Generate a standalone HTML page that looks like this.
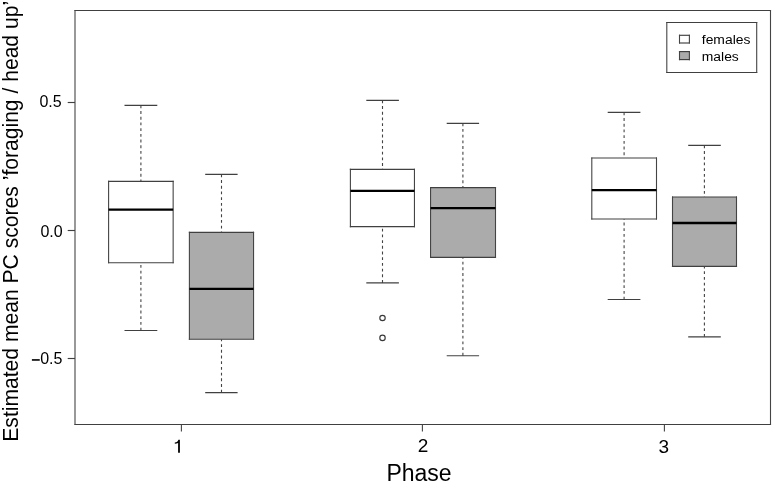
<!DOCTYPE html>
<html>
<head>
<meta charset="utf-8">
<style>
html,body{margin:0;padding:0;background:#fff;}
body{width:772px;height:482px;overflow:hidden;}
svg{display:block;will-change:transform;}
text{font-family:"Liberation Sans",sans-serif;fill:#000;}
</style>
</head>
<body>
<svg width="772" height="482" viewBox="0 0 772 482">
<rect x="0" y="0" width="772" height="482" fill="#fff"/>
<line x1="74.45" y1="10.5" x2="771.05" y2="10.5" stroke="#404040" stroke-width="1.15"/>
<line x1="74.45" y1="424.5" x2="771.05" y2="424.5" stroke="#404040" stroke-width="1.15"/>
<line x1="75.0" y1="9.925" x2="75.0" y2="425.075" stroke="#444444" stroke-width="1.1"/>
<line x1="770.5" y1="9.925" x2="770.5" y2="425.075" stroke="#444444" stroke-width="1.1"/>
<line x1="67.7" y1="102.5" x2="75.0" y2="102.5" stroke="#404040" stroke-width="1.15"/>
<line x1="67.7" y1="230.5" x2="75.0" y2="230.5" stroke="#404040" stroke-width="1.15"/>
<line x1="67.7" y1="358.5" x2="75.0" y2="358.5" stroke="#404040" stroke-width="1.15"/>
<line x1="181.4" y1="424.5" x2="181.4" y2="431.6" stroke="#444444" stroke-width="1.1"/>
<line x1="422.4" y1="424.5" x2="422.4" y2="431.6" stroke="#444444" stroke-width="1.1"/>
<line x1="664.4" y1="424.5" x2="664.4" y2="431.6" stroke="#444444" stroke-width="1.1"/>
<line x1="140.9" y1="105.4" x2="140.9" y2="181.4" stroke="#444444" stroke-width="1.1" stroke-dasharray="2.85 2.85"/>
<line x1="140.9" y1="330.5" x2="140.9" y2="262.7" stroke="#444444" stroke-width="1.1" stroke-dasharray="2.85 2.85"/>
<line x1="124.5" y1="105.4" x2="157.3" y2="105.4" stroke="#404040" stroke-width="1.15"/>
<line x1="124.5" y1="330.5" x2="157.3" y2="330.5" stroke="#404040" stroke-width="1.15"/>
<line x1="221.5" y1="174.4" x2="221.5" y2="232.4" stroke="#444444" stroke-width="1.1" stroke-dasharray="2.85 2.85"/>
<line x1="221.5" y1="392.6" x2="221.5" y2="339.2" stroke="#444444" stroke-width="1.1" stroke-dasharray="2.85 2.85"/>
<line x1="205.2" y1="174.4" x2="237.6" y2="174.4" stroke="#404040" stroke-width="1.15"/>
<line x1="205.2" y1="392.6" x2="237.6" y2="392.6" stroke="#404040" stroke-width="1.15"/>
<line x1="382.5" y1="100.4" x2="382.5" y2="169.4" stroke="#444444" stroke-width="1.1" stroke-dasharray="2.85 2.85"/>
<line x1="382.5" y1="282.9" x2="382.5" y2="226.6" stroke="#444444" stroke-width="1.1" stroke-dasharray="2.85 2.85"/>
<line x1="366.3" y1="100.4" x2="398.9" y2="100.4" stroke="#404040" stroke-width="1.15"/>
<line x1="366.3" y1="282.9" x2="398.9" y2="282.9" stroke="#404040" stroke-width="1.15"/>
<line x1="462.9" y1="123.3" x2="462.9" y2="187.55" stroke="#444444" stroke-width="1.1" stroke-dasharray="2.85 2.85"/>
<line x1="462.9" y1="355.7" x2="462.9" y2="257.3" stroke="#444444" stroke-width="1.1" stroke-dasharray="2.85 2.85"/>
<line x1="446.7" y1="123.3" x2="479.1" y2="123.3" stroke="#404040" stroke-width="1.15"/>
<line x1="446.7" y1="355.7" x2="479.1" y2="355.7" stroke="#404040" stroke-width="1.15"/>
<line x1="624.1" y1="112.4" x2="624.1" y2="158.0" stroke="#444444" stroke-width="1.1" stroke-dasharray="2.85 2.85"/>
<line x1="624.1" y1="299.5" x2="624.1" y2="219.0" stroke="#444444" stroke-width="1.1" stroke-dasharray="2.85 2.85"/>
<line x1="607.7" y1="112.4" x2="640.4" y2="112.4" stroke="#404040" stroke-width="1.15"/>
<line x1="607.7" y1="299.5" x2="640.4" y2="299.5" stroke="#404040" stroke-width="1.15"/>
<line x1="704.4" y1="145.4" x2="704.4" y2="197.0" stroke="#444444" stroke-width="1.1" stroke-dasharray="2.85 2.85"/>
<line x1="704.4" y1="336.8" x2="704.4" y2="266.3" stroke="#444444" stroke-width="1.1" stroke-dasharray="2.85 2.85"/>
<line x1="688.2" y1="145.4" x2="720.8" y2="145.4" stroke="#404040" stroke-width="1.15"/>
<line x1="688.2" y1="336.8" x2="720.8" y2="336.8" stroke="#404040" stroke-width="1.15"/>
<rect x="108.6" y="181.4" width="64.55" height="81.3" fill="#fff"/>
<line x1="108.05" y1="181.4" x2="173.7" y2="181.4" stroke="#404040" stroke-width="1.15"/>
<line x1="108.05" y1="262.7" x2="173.7" y2="262.7" stroke="#404040" stroke-width="1.15"/>
<line x1="108.6" y1="180.825" x2="108.6" y2="263.275" stroke="#444444" stroke-width="1.1"/>
<line x1="173.15" y1="180.825" x2="173.15" y2="263.275" stroke="#444444" stroke-width="1.1"/>
<line x1="108.6" y1="209.7" x2="173.15" y2="209.7" stroke="#000" stroke-width="2.3"/>
<rect x="189.4" y="232.4" width="64.15" height="106.8" fill="#ababab"/>
<line x1="188.85" y1="232.4" x2="254.1" y2="232.4" stroke="#404040" stroke-width="1.15"/>
<line x1="188.85" y1="339.2" x2="254.1" y2="339.2" stroke="#404040" stroke-width="1.15"/>
<line x1="189.4" y1="231.825" x2="189.4" y2="339.775" stroke="#444444" stroke-width="1.1"/>
<line x1="253.55" y1="231.825" x2="253.55" y2="339.775" stroke="#444444" stroke-width="1.1"/>
<line x1="189.4" y1="288.9" x2="253.55" y2="288.9" stroke="#000" stroke-width="2.3"/>
<rect x="350.4" y="169.4" width="64.05" height="57.2" fill="#fff"/>
<line x1="349.85" y1="169.4" x2="415.0" y2="169.4" stroke="#404040" stroke-width="1.15"/>
<line x1="349.85" y1="226.6" x2="415.0" y2="226.6" stroke="#404040" stroke-width="1.15"/>
<line x1="350.4" y1="168.825" x2="350.4" y2="227.175" stroke="#444444" stroke-width="1.1"/>
<line x1="414.45" y1="168.825" x2="414.45" y2="227.175" stroke="#444444" stroke-width="1.1"/>
<line x1="350.4" y1="190.8" x2="414.45" y2="190.8" stroke="#000" stroke-width="2.3"/>
<rect x="430.55" y="187.55" width="64.95" height="69.75" fill="#ababab"/>
<line x1="430.0" y1="187.55" x2="496.05" y2="187.55" stroke="#404040" stroke-width="1.15"/>
<line x1="430.0" y1="257.3" x2="496.05" y2="257.3" stroke="#404040" stroke-width="1.15"/>
<line x1="430.55" y1="186.975" x2="430.55" y2="257.875" stroke="#444444" stroke-width="1.1"/>
<line x1="495.5" y1="186.975" x2="495.5" y2="257.875" stroke="#444444" stroke-width="1.1"/>
<line x1="430.55" y1="208.1" x2="495.5" y2="208.1" stroke="#000" stroke-width="2.3"/>
<rect x="591.8" y="158.0" width="64.7" height="61.0" fill="#fff"/>
<line x1="591.25" y1="158.0" x2="657.05" y2="158.0" stroke="#404040" stroke-width="1.15"/>
<line x1="591.25" y1="219.0" x2="657.05" y2="219.0" stroke="#404040" stroke-width="1.15"/>
<line x1="591.8" y1="157.425" x2="591.8" y2="219.575" stroke="#444444" stroke-width="1.1"/>
<line x1="656.5" y1="157.425" x2="656.5" y2="219.575" stroke="#444444" stroke-width="1.1"/>
<line x1="591.8" y1="190.1" x2="656.5" y2="190.1" stroke="#000" stroke-width="2.3"/>
<rect x="672.5" y="197.0" width="64.0" height="69.3" fill="#ababab"/>
<line x1="671.95" y1="197.0" x2="737.05" y2="197.0" stroke="#404040" stroke-width="1.15"/>
<line x1="671.95" y1="266.3" x2="737.05" y2="266.3" stroke="#404040" stroke-width="1.15"/>
<line x1="672.5" y1="196.425" x2="672.5" y2="266.875" stroke="#444444" stroke-width="1.1"/>
<line x1="736.5" y1="196.425" x2="736.5" y2="266.875" stroke="#444444" stroke-width="1.1"/>
<line x1="672.5" y1="223.0" x2="736.5" y2="223.0" stroke="#000" stroke-width="2.3"/>
<circle cx="382.5" cy="318.0" r="2.7" fill="none" stroke="#383838" stroke-width="1.15"/>
<circle cx="382.5" cy="337.9" r="2.7" fill="none" stroke="#383838" stroke-width="1.15"/>
<g font-size="16" text-anchor="end">
  <text x="61.7" y="107.4">0.5</text>
  <text x="62.7" y="236.7">0.0</text>
  <text x="62.4" y="364.2">0.5</text>
</g>
<rect x="31.9" y="359.15" width="7.85" height="1.6" fill="#000"/>
<g font-size="19" text-anchor="middle">
  <text x="423" y="451.8">2</text>
  <text x="663.8" y="452.8">3</text>
</g>
<path d="M179.9,452.8 L178.1,452.8 L178.1,443.1 C177.1,443.6 176,443.7 174.8,443.7 L174.8,442.4 C176.8,442.3 178,441.3 178.4,439.7 L179.9,439.7 Z" fill="#000"/>
<text x="419.0" y="480.7" font-size="23" text-anchor="middle">Phase</text>
<text transform="translate(17.8,441.7) scale(1.05,1) rotate(-90)" font-size="21.1">Estimated mean PC scores &#8217;foraging / head up&#8217;</text>
<rect x="666.8" y="22.5" width="89.9" height="50.0" fill="#fff"/>
<line x1="666.25" y1="22.5" x2="757.25" y2="22.5" stroke="#404040" stroke-width="1.15"/>
<line x1="666.25" y1="72.5" x2="757.25" y2="72.5" stroke="#404040" stroke-width="1.15"/>
<line x1="666.8" y1="21.925" x2="666.8" y2="73.075" stroke="#444444" stroke-width="1.1"/>
<line x1="756.7" y1="21.925" x2="756.7" y2="73.075" stroke="#444444" stroke-width="1.1"/>
<rect x="679.5" y="35.3" width="9.9" height="7.7" fill="#fff"/>
<line x1="678.95" y1="35.3" x2="689.95" y2="35.3" stroke="#404040" stroke-width="1.15"/>
<line x1="678.95" y1="43.0" x2="689.95" y2="43.0" stroke="#404040" stroke-width="1.15"/>
<line x1="679.5" y1="34.725" x2="679.5" y2="43.575" stroke="#444444" stroke-width="1.1"/>
<line x1="689.4" y1="34.725" x2="689.4" y2="43.575" stroke="#444444" stroke-width="1.1"/>
<rect x="679.5" y="51.6" width="9.9" height="8.0" fill="#ababab"/>
<line x1="678.95" y1="51.6" x2="689.95" y2="51.6" stroke="#404040" stroke-width="1.15"/>
<line x1="678.95" y1="59.6" x2="689.95" y2="59.6" stroke="#404040" stroke-width="1.15"/>
<line x1="679.5" y1="51.025" x2="679.5" y2="60.175" stroke="#444444" stroke-width="1.1"/>
<line x1="689.4" y1="51.025" x2="689.4" y2="60.175" stroke="#444444" stroke-width="1.1"/>
<g font-size="13.9">
  <text transform="translate(701.8,43.9) scale(1,0.91)">females</text>
  <text transform="translate(701.8,60.5) scale(1,0.91)">males</text>
</g>
</svg>
</body>
</html>
